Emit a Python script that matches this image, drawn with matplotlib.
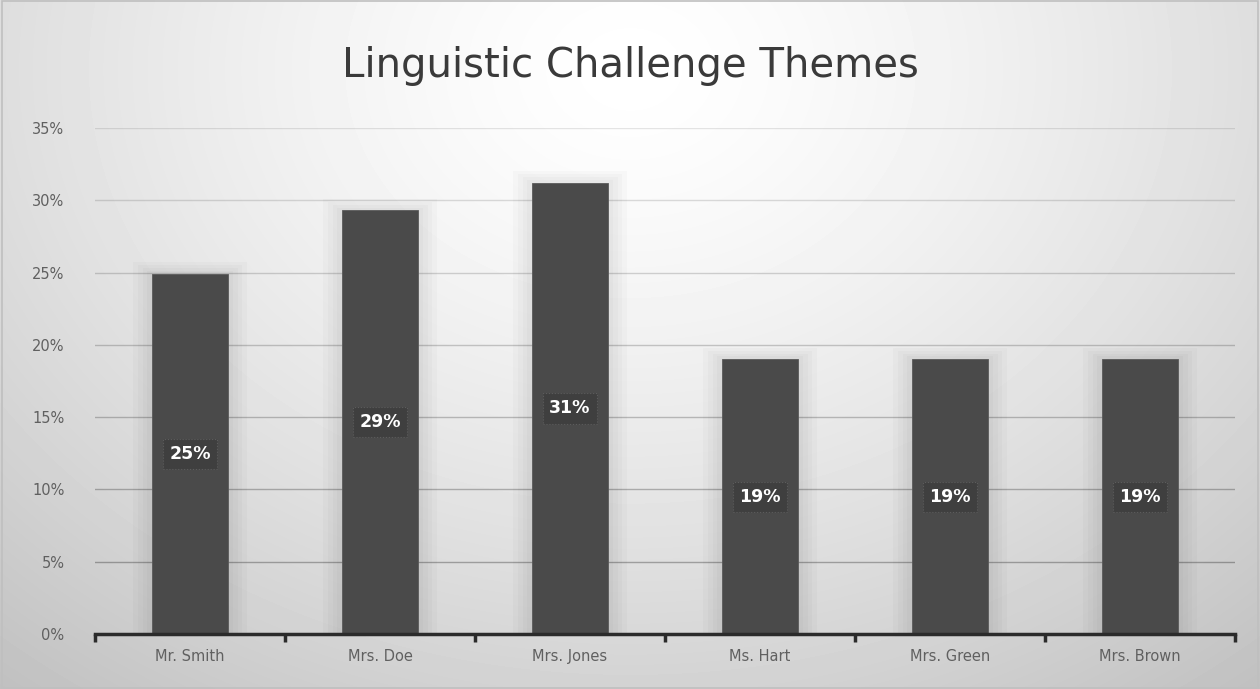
import numpy as np
import matplotlib
matplotlib.use("Agg")
import matplotlib.pyplot as plt
from matplotlib.ticker import FuncFormatter, FixedLocator

# data
teachers = ["Mr. Smith", "Mrs. Doe", "Mrs. Jones", "Ms. Hart", "Mrs. Green", "Mrs. Brown"]
shares = [0.249, 0.293, 0.312, 0.190, 0.190, 0.190]
share_labels = ["25%", "29%", "31%", "19%", "19%", "19%"]
y_ticks = [0, 0.05, 0.10, 0.15, 0.20, 0.25, 0.30, 0.35]

W, H = 1260, 689
fig = plt.figure(figsize=(W / 100, H / 100), dpi=100)

# radial grey background, white at top centre
bg = fig.add_axes([0, 0, 1, 1])
yy, xx = np.mgrid[0:H, 0:W]
r = np.sqrt(((xx - W * 0.5) / (W * 0.75)) ** 2 + ((yy - H * 0.1) / (H * 1.1)) ** 2)
shade = 1.0 - 0.23 * np.clip(r, 0, 1.3) ** 1.4
bg.imshow(shade, cmap="gray", vmin=0, vmax=1, aspect="auto", extent=[0, 1, 0, 1])
bg.set_xlim(0, 1)
bg.set_ylim(0, 1)
bg.axis("off")
bg.add_patch(plt.Rectangle((0.0015, 0.002), 0.997, 0.996, fill=False, ec="#bfbfbf", lw=1.2))

ax = fig.add_axes([95 / W, 1 - 634 / H, (1235 - 95) / W, (634 - 128) / H])
ax.patch.set_alpha(0)
x = np.arange(len(teachers))

# gridlines, fainter towards the light top
for v in y_ticks[1:]:
    ax.axhline(v, color="black", lw=1.0, alpha=0.10 + 0.22 * (1 - v / 0.35), zorder=0)

# soft glow behind bars
for k in range(4):
    pad = 0.025 * (k + 1)
    ax.bar(x, np.array(shares) + 0.002 * (k + 1), width=0.4 + 2 * pad, color="black",
           alpha=0.018, zorder=1, lw=0)

ax.bar(x, shares, width=0.4, color="#4a4a4a", edgecolor="#5a5a5a", lw=0.6, zorder=3)

for xi, v, lab in zip(x, shares, share_labels):
    ax.text(xi, v / 2, lab, ha="center", va="center", color="white", fontsize=12.5,
            fontweight="bold", zorder=5,
            bbox=dict(boxstyle="square,pad=0.35", fc="#3f3f3f", ec="#5c5c5c", ls=":", lw=0.8))

ax.set_xlim(-0.5, len(teachers) - 0.5)
ax.set_ylim(0, 0.35)
ax.yaxis.set_major_locator(FixedLocator(y_ticks))
ax.yaxis.set_major_formatter(FuncFormatter(lambda v, p: f"{v * 100:.0f}%"))

for s in ["top", "right", "left"]:
    ax.spines[s].set_visible(False)
ax.spines["bottom"].set_color("#2b2b2b")
ax.spines["bottom"].set_linewidth(2.5)
ax.spines["bottom"].set_zorder(4)

ax.set_xticks(x)
ax.set_xticklabels(teachers)
ax.tick_params(axis="x", length=0, pad=11, labelsize=10.5, labelcolor="#606060")
ax.tick_params(axis="y", length=0, pad=22, labelsize=10.5, labelcolor="#606060")
ax.set_xticks(np.arange(-0.5, len(teachers)), minor=True)
ax.tick_params(axis="x", which="minor", length=6, width=2.5, color="#2b2b2b", direction="out")

fig.text(0.5, 1 - 66 / H, "Linguistic Challenge Themes", ha="center", va="center",
         fontsize=29, color="#3a3a3a")

fig.savefig("out.png", dpi=100)
